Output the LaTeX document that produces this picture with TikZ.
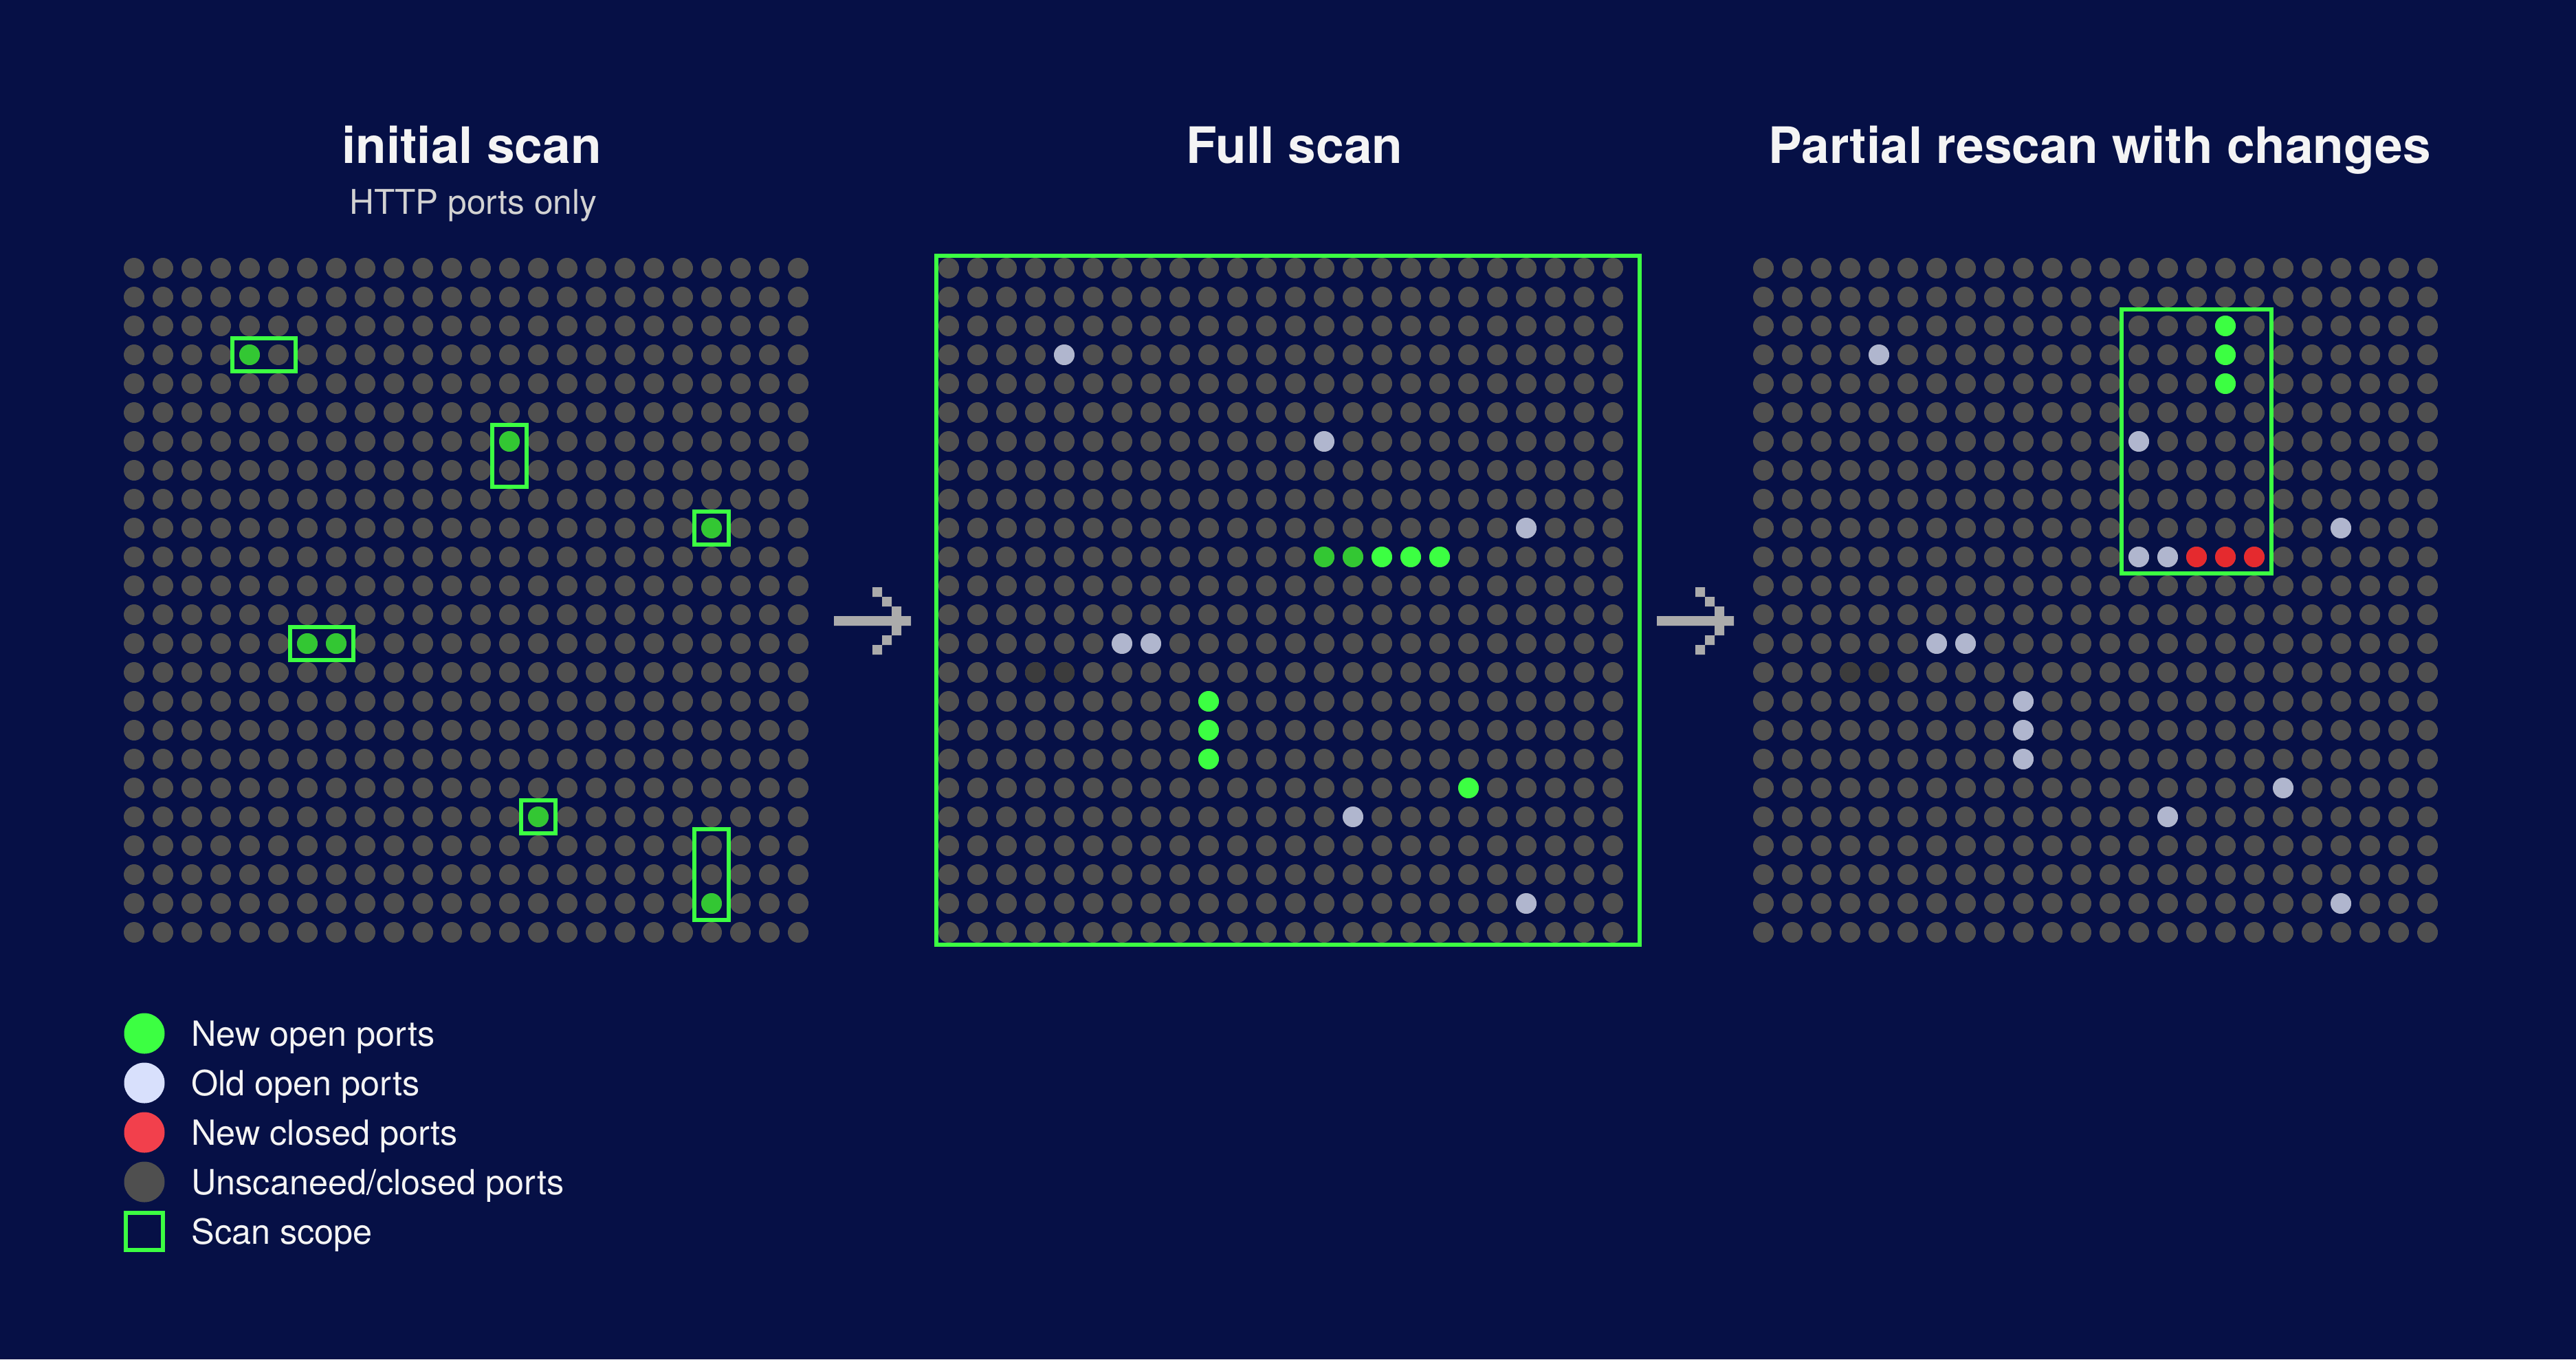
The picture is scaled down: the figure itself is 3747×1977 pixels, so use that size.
\documentclass[tikz,border=0pt]{standalone}
\usepackage{fontspec}
\setmainfont{TeX Gyre Heros}
\definecolor{sfondo}{HTML}{061046}
\definecolor{grigioporta}{HTML}{4F4F4F}
\definecolor{grigioscuro}{HTML}{3C3C3C}
\definecolor{verdenuovo}{HTML}{3CFF42}
\definecolor{verdevecchio}{HTML}{33C733}
\definecolor{chiaro}{HTML}{B0B6CE}
\definecolor{chiarolegenda}{HTML}{D8E0FC}
\definecolor{rosso}{HTML}{E52A2E}
\definecolor{rossolegenda}{HTML}{F2404C}
\definecolor{freccia}{HTML}{ABABAB}
\definecolor{testo}{HTML}{F4F4F4}
\definecolor{grigiotesto}{HTML}{D2D2D2}
\tikzset{
  ambito/.style={draw=verdenuovo, line width=3pt},
  titolo/.style={anchor=base, inner sep=0pt, text=testo, font=\bfseries\fontsize{36.5}{40}\selectfont},
  sottotitolo/.style={anchor=base, inner sep=0pt, text=grigiotesto, font=\fontsize{24.8}{28}\selectfont},
  voce/.style={anchor=base west, inner sep=0pt, text=testo, font=\fontsize{25.2}{28}\selectfont}
}
% griglia 24x24 di porte: {origine x}
\newcommand{\griglia}[1]{%
  \foreach \c in {0,...,23}{\foreach \r in {0,...,23}{\fill[grigioporta] ({#1+42*\c},{390+42*\r}) circle (15);}}}
% porta colorata: {origine x}{colore}{lista colonna/riga}
\newcommand{\porte}[3]{%
  \foreach \c/\r in {#3}{\fill[#2] ({#1+42*\c},{390+42*\r}) circle (15);}}
% riquadro di scansione: {origine x}{col1}{riga1}{col2}{riga2}
\newcommand{\riquadro}[5]{%
  \draw[ambito] ({#1+42*#2-25},{390+42*#3-24}) rectangle ({#1+42*#4+25},{390+42*#5+24});}
% freccia a pixel: {x inizio}
\newcommand{\freccetta}[1]{%
  \fill[freccia] (#1,896) rectangle ++(112,14)
    (#1+56,854) rectangle ++(14,14) (#1+70,868) rectangle ++(14,14) (#1+84,882) rectangle ++(14,14)
    (#1+84,910) rectangle ++(14,14) (#1+70,924) rectangle ++(14,14) (#1+56,938) rectangle ++(14,14);}
\begin{document}
\begin{tikzpicture}[x=0.5pt, y=-0.5pt]
    %sfondo
    \fill[sfondo] (0,0) rectangle (3747,1977);
    \useasboundingbox (0,0) rectangle (3747,1977);
    %titoli
    \node[titolo] (titolo1) at (686,237) {initial scan};
    \node[sottotitolo] (sottotitolo1) at (688,311) {HTTP ports only};
    \node[titolo] (titolo2) at (1883,237) {Full scan};
    \node[titolo] (titolo3) at (3054,237) {Partial rescan with changes};
    %%%%%%%%%%%%%%%%%%%%%%%%%%%%%%%%%%%%%%%%%%%%%%%%%%%%%%%%%%%%%%%%%%%%%%%%%%
    %griglia iniziale
    \griglia{195}
    \porte{195}{verdevecchio}{4/3, 13/6, 20/9, 6/13, 7/13, 14/19, 20/22}
    \riquadro{195}{4}{3}{5}{3}
    \riquadro{195}{13}{6}{13}{7}
    \riquadro{195}{20}{9}{20}{9}
    \riquadro{195}{6}{13}{7}{13}
    \riquadro{195}{14}{19}{14}{19}
    \riquadro{195}{20}{20}{20}{22}
    %freccia 1
    \freccetta{1213}
    %%%%%%%%%%%%%%%%%%%%%%%%%%%%%%%%%%%%%%%%%%%%%%%%%%%%%%%%%%%%%%%%%%%%%%%%%%
    %griglia completa
    \griglia{1380}
    \porte{1380}{chiaro}{4/3, 13/6, 20/9, 6/13, 7/13, 14/19, 20/22}
    \porte{1380}{verdevecchio}{13/10, 14/10}
    \porte{1380}{verdenuovo}{15/10, 16/10, 17/10, 9/15, 9/16, 9/17, 18/18}
    \porte{1380}{grigioscuro}{3/14, 4/14}
    \draw[ambito] (1362,372) rectangle (2385,1374);
    %freccia 2
    \freccetta{2410}
    %%%%%%%%%%%%%%%%%%%%%%%%%%%%%%%%%%%%%%%%%%%%%%%%%%%%%%%%%%%%%%%%%%%%%%%%%%
    %griglia parziale
    \griglia{2565}
    \porte{2565}{chiaro}{4/3, 13/6, 20/9, 6/13, 7/13, 14/19, 20/22, 13/10, 14/10, 9/15, 9/16, 9/17, 18/18}
    \porte{2565}{rosso}{15/10, 16/10, 17/10}
    \porte{2565}{verdenuovo}{16/2, 16/3, 16/4}
    \porte{2565}{grigioscuro}{3/14, 4/14}
    \riquadro{2565}{13}{2}{17}{10}
    %%%%%%%%%%%%%%%%%%%%%%%%%%%%%%%%%%%%%%%%%%%%%%%%%%%%%%%%%%%%%%%%%%%%%%%%%%
    %legenda
    \fill[verdenuovo] (210,1503) circle (29.5);
    \fill[chiarolegenda] (210,1575) circle (29.5);
    \fill[rossolegenda] (210,1647) circle (29.5);
    \fill[grigioporta] (210,1719) circle (29.5);
    \draw[draw=verdenuovo, line width=3pt] (183,1764) rectangle (237,1818);
    \node[voce] (voce1) at (278,1521) {New open ports};
    \node[voce] (voce2) at (278,1593) {Old open ports};
    \node[voce] (voce3) at (278,1665) {New closed ports};
    \node[voce] (voce4) at (278,1737) {Unscaneed/closed ports};
    \node[voce] (voce5) at (278,1809) {Scan scope};
\end{tikzpicture}
\end{document}
